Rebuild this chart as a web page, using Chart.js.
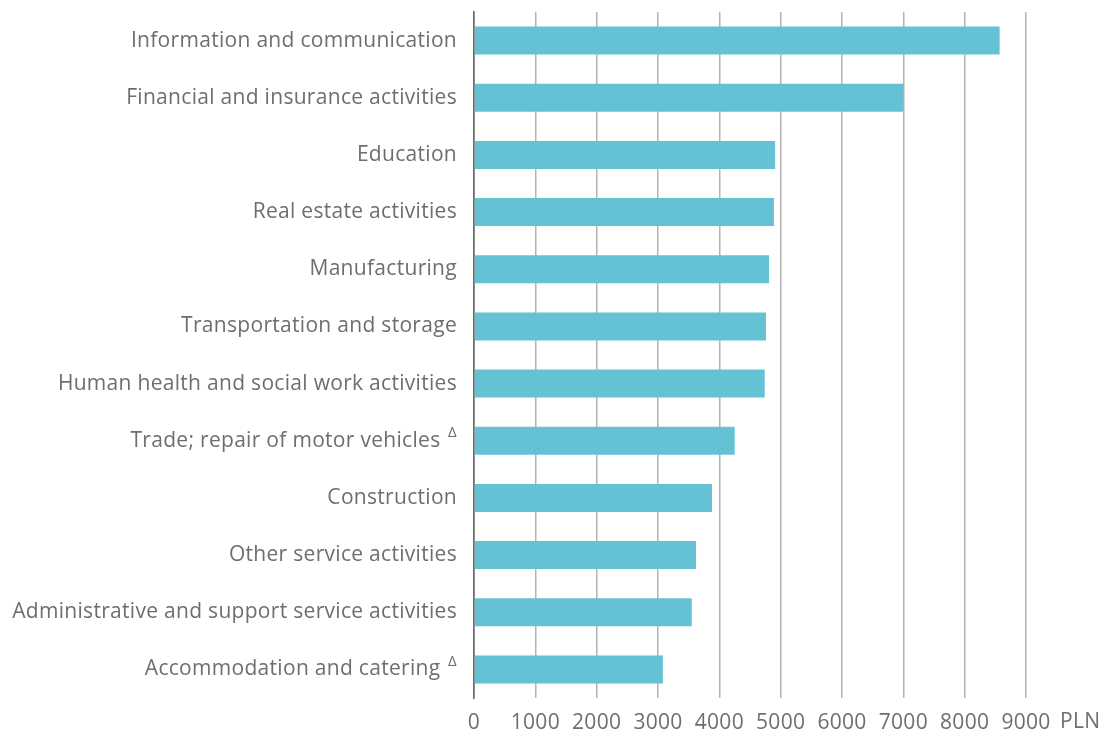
<!DOCTYPE html>
<html>
<head>
<meta charset="utf-8">
<script src="https://cdn.jsdelivr.net/npm/chart.js@4"></script>
<style>
  html, body { margin: 0; padding: 0; background: #fff; }
  #wrap { width: 1099px; height: 734px; position: relative; }
</style>
</head>
<body>
<div id="wrap"><canvas id="wageChart"></canvas></div>
<script>
// categories, top to bottom
const sections = [
    "Information and communication",
    "Financial and insurance activities",
    "Education",
    "Real estate activities",
    "Manufacturing",
    "Transportation and storage",
    "Human health and social work activities",
    "Trade; repair of motor vehicles",
    "Construction",
    "Other service activities",
    "Administrative and support service activities",
    "Accommodation and catering"
];
// sections with the Δ footnote mark
const footnoted = [
    "Trade; repair of motor vehicles",
    "Accommodation and catering"
];
// average gross wage, PLN
const wages = [8570, 7000, 4910, 4890, 4810, 4760, 4740, 4250, 3880, 3620, 3550, 3080];
const xTicks = [0, 1000, 2000, 3000, 4000, 5000, 6000, 7000, 8000, 9000];
const unitLabel = "PLN";

const FONT = "'Open Sans', sans-serif";
const TEXT = "#6e6e6e";

// slightly spaced lettering like the original (canvas resize resets it, so set it each pass)
const spacingPlugin = {
    id: "spacing",
    beforeUpdate(chart) { chart.ctx.letterSpacing = "0.3px"; },
    beforeDraw(chart) { chart.ctx.letterSpacing = "0.3px"; }
};

// draws the Δ marks and the unit after the last tick
const extrasPlugin = {
    id: "extras",
    afterDraw(chart) {
        const ctx = chart.ctx;
        const y = chart.scales.y;
        const x = chart.scales.x;
        ctx.save();
        ctx.fillStyle = TEXT;
        ctx.font = "15px " + FONT;
        ctx.textAlign = "right";
        ctx.textBaseline = "middle";
        sections.forEach((s, i) => {
            if (footnoted.includes(s)) {
                ctx.fillText("\u0394", y.right - 17, y.getPixelForValue(i) - 8);
            }
        });
        ctx.font = "21px " + FONT;
        ctx.textAlign = "left";
        ctx.fillText(unitLabel, x.getPixelForValue(9000) + 34, 722);
        ctx.restore();
    }
};

new Chart(document.getElementById("wageChart").getContext("2d"), {
    type: "bar",
    data: {
        labels: sections,
        datasets: [{
            data: wages,
            backgroundColor: "#64c2d4",
            barPercentage: 0.49,
            categoryPercentage: 1
        }]
    },
    options: {
        indexAxis: "y",
        responsive: true,
        maintainAspectRatio: false,
        animation: false,
        layout: { padding: { top: 12, right: 73, bottom: 0, left: 0 } },
        plugins: {
            legend: { display: false },
            tooltip: { enabled: false }
        },
        scales: {
            x: {
                min: 0,
                max: 9000,
                afterBuildTicks: (axis) => { axis.ticks = xTicks.map(v => ({ value: v })); },
                afterFit: (axis) => { axis.height = 36; },
                grid: {
                    color: (c) => c.tick && c.tick.value === 0 ? "#6b6b6b" : "#b3b3b3",
                    lineWidth: 1.5,
                    drawTicks: false
                },
                border: { display: false },
                ticks: {
                    color: TEXT,
                    font: { family: FONT, size: 21 },
                    padding: 12,
                    maxRotation: 0,
                    callback: (v) => String(v)
                }
            },
            y: {
                afterFit: (axis) => {
                    axis.width = 474;
                    axis.paddingTop = 0;
                    axis.paddingBottom = 0;
                },
                grid: { display: false, drawTicks: false },
                border: { display: true, color: "#6b6b6b", width: 1.5 },
                ticks: {
                    color: TEXT,
                    font: { family: FONT, size: 21 },
                    padding: 17,
                    callback: function (v, i) {
                        const s = sections[i];
                        return footnoted.includes(s) ? s + " \u2002" : s;
                    }
                }
            }
        }
    },
    plugins: [spacingPlugin, extrasPlugin]
});
</script>
</body>
</html>
